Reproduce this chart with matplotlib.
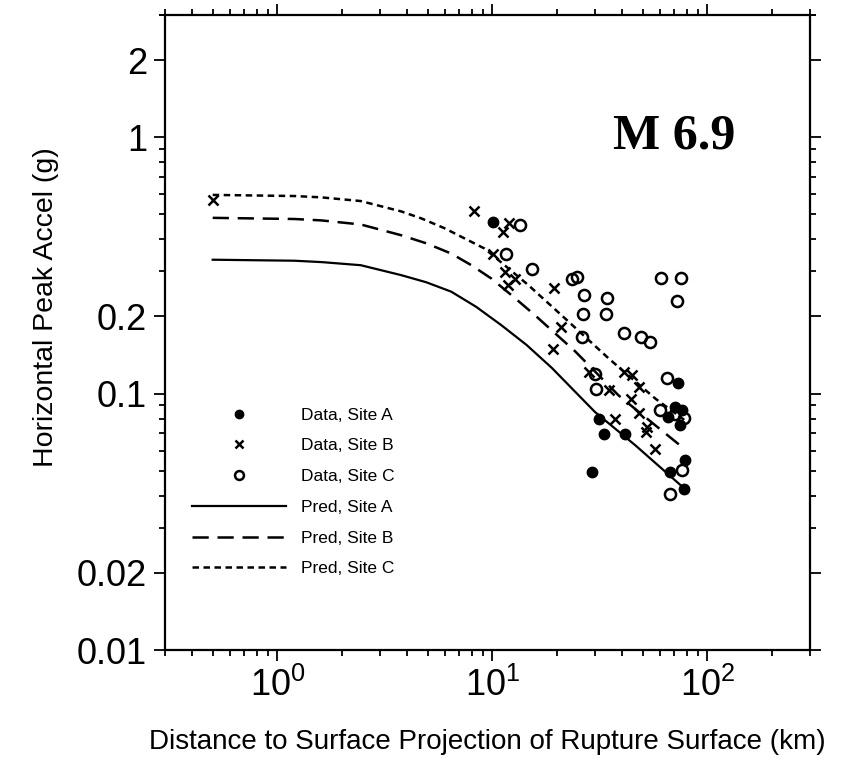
import matplotlib
matplotlib.use('Agg')
import matplotlib.pyplot as plt
from matplotlib.ticker import FixedLocator, FixedFormatter, NullFormatter

plt.rcParams['font.family'] = ['Liberation Sans', 'DejaVu Sans']
plt.rcParams['mathtext.fontset'] = 'custom'
plt.rcParams['mathtext.rm'] = 'Liberation Sans'

# observed peak accelerations (distance km, accel g)
dist_a = [10.1, 31.2, 32.9, 29.0, 41.5, 73.2, 70.6, 76.4, 65.8, 74.3, 78.7, 67.0, 77.8]
pga_a = [0.469, 0.080, 0.0698, 0.0495, 0.0698, 0.110, 0.0887, 0.086, 0.081, 0.0752, 0.0549, 0.0495, 0.0426]

dist_b = [0.5, 8.21, 11.2, 11.9, 10.1, 11.4, 12.7, 11.8, 19.4, 20.8, 19.2, 28.2, 34.8,
          40.8, 44.7, 48.0, 44.3, 37.3, 48.3, 52.5, 51.6, 57.3]
pga_b = [0.569, 0.514, 0.429, 0.461, 0.352, 0.299, 0.281, 0.266, 0.259, 0.182, 0.150, 0.121, 0.103,
         0.122, 0.118, 0.106, 0.0956, 0.080, 0.084, 0.074, 0.0708, 0.0606]

dist_c = [13.4, 11.6, 15.3, 23.4, 24.7, 26.8, 34.1, 26.5, 33.7, 26.0, 40.8, 49.3, 54.3,
          61.1, 75.7, 72.4, 30.0, 30.4, 65.1, 60.4, 77.8, 70.9, 76.4, 67.0]
pga_c = [0.454, 0.352, 0.306, 0.281, 0.285, 0.242, 0.237, 0.205, 0.205, 0.167, 0.173, 0.167, 0.159,
         0.283, 0.283, 0.229, 0.1197, 0.1046, 0.115, 0.0866, 0.0804, 0.0835, 0.0502, 0.0407]

# predicted curves
pred_a_x = [0.5, 1.2, 1.6, 2.44, 3.76, 4.92, 6.43, 8.41, 11.0, 14.4, 18.9, 30.0, 46.3, 73.8, 78]
pred_a_y = [0.333, 0.330, 0.326, 0.317, 0.290, 0.272, 0.250, 0.218, 0.185, 0.155, 0.126, 0.0848,
            0.0628, 0.0445, 0.0428]
pred_b_x = [0.5, 1.2, 1.6, 2.44, 3.76, 4.92, 6.43, 7.98, 9.9, 12.5, 15.8, 24.3, 38.6, 57.3, 78]
pred_b_y = [0.485, 0.480, 0.474, 0.457, 0.415, 0.386, 0.352, 0.317, 0.281, 0.239, 0.202, 0.146,
            0.0985, 0.0752, 0.0610]
pred_c_x = [0.5, 1.2, 1.6, 2.44, 3.76, 4.66, 5.98, 7.43, 9.2, 11.6, 14.7, 22.6, 34.8, 57.3, 78]
pred_c_y = [0.596, 0.590, 0.583, 0.564, 0.514, 0.483, 0.442, 0.403, 0.368, 0.313, 0.265, 0.191,
            0.137, 0.0956, 0.079]

ytick_vals = [0.01, 0.02, 0.1, 0.2, 1, 2]
ytick_labels = ['0.01', '0.02', '0.1', '0.2', '1', '2']
xtick_vals = [1, 10, 100]
xtick_labels = [r'$\mathregular{10^{0}}$', r'$\mathregular{10^{1}}$', r'$\mathregular{10^{2}}$']

fig = plt.figure(figsize=(8.44, 7.67), dpi=100)
ax = fig.add_axes([0.1955, 0.1525, 0.7642, 0.828])

ax.plot(dist_a, pga_a, 'o', color='black', markersize=7.5, ls='none', label='Data, Site A')
ax.plot(dist_b, pga_b, 'x', color='black', markersize=6.5, mew=1.8, ls='none', label='Data, Site B')
ax.plot(dist_c, pga_c, 'o', mfc='none', mec='black', markersize=8, mew=1.8, ls='none', label='Data, Site C')
ax.plot(pred_a_x, pred_a_y, '-', color='black', lw=1.6, label='Pred, Site A')
ax.plot(pred_b_x, pred_b_y, color='black', lw=1.8, ls=(0, (6.5, 3.5)), label='Pred, Site B')
ax.plot(pred_c_x, pred_c_y, color='black', lw=1.8, ls=(0, (2.6, 1.8)), label='Pred, Site C')

ax.set_xscale('log')
ax.set_yscale('log')
ax.set_xlim(0.3, 300)
ax.set_ylim(0.01, 3)

ax.yaxis.set_major_locator(FixedLocator(ytick_vals))
ax.yaxis.set_major_formatter(FixedFormatter(ytick_labels))
yminor = [m * d for d in [0.01, 0.1, 1] for m in range(3, 10)] + [3]
ax.yaxis.set_minor_locator(FixedLocator(yminor))
ax.yaxis.set_minor_formatter(NullFormatter())

ax.xaxis.set_major_locator(FixedLocator(xtick_vals))
ax.xaxis.set_major_formatter(FixedFormatter(xtick_labels))
xminor = [m * d for d in [0.1, 1, 10, 100] for m in range(2, 10)]
xminor = [v for v in xminor if 0.3 <= v <= 300]
ax.xaxis.set_minor_locator(FixedLocator(xminor))
ax.xaxis.set_minor_formatter(NullFormatter())

ax.tick_params(which='both', direction='out', top=True, right=True, width=1.3, labelsize=26)
ax.tick_params(which='major', length=8, pad=5)
ax.tick_params(which='minor', length=4)
for sp in ax.spines.values():
    sp.set_linewidth(1.6)

ax.set_xlabel('Distance to Surface Projection of Rupture Surface (km)', fontsize=20)
ax.set_ylabel('Horizontal Peak Accel (g)', fontsize=20.5)
ax.xaxis.set_label_coords(0.5, -0.125)
ax.yaxis.set_label_coords(-0.164, 0.54)

ax.text(0.79, 0.808, 'M 6.9', transform=ax.transAxes, ha='center', va='center',
        fontsize=36, fontweight='bold', family='Liberation Serif')

ax.legend(loc='upper left', bbox_to_anchor=(0.042, 0.382), frameon=False, fontsize=12.5,
          handlelength=5.4, handletextpad=0.9, labelspacing=0.9, borderpad=0,
          borderaxespad=0, markerscale=0.8)

fig.savefig('out.png', dpi=100)
